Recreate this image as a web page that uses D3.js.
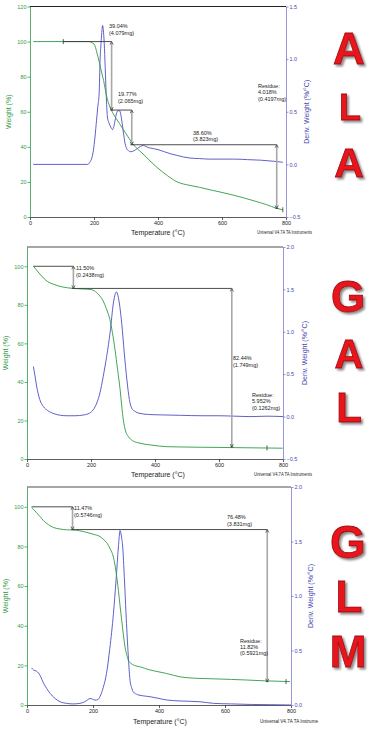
<!DOCTYPE html>
<html><head><meta charset="utf-8">
<script src="https://cdn.jsdelivr.net/npm/d3@7"></script>
<style>
html,body{margin:0;padding:0;background:#fff;}
svg{display:block;font-family:"Liberation Sans Narrow","Arial Narrow","Liberation Sans",Arial,sans-serif;}
</style></head><body>
<svg id="c" width="370" height="730"></svg>
<script>
// ---------------- DATA ----------------
const xTickValues = [0, 200, 400, 600, 800];

// ALA
const alaWeightT = [10,50,100,150,185,195,200,205,210,215,220,225,230,235,240,250,260,270,280,290,300,310,320,335,350,375,400,430,460,500,530,570,600,635,670,700,740,770,790];
const alaWeight  = [100,100,100,100,100,99.3,98.6,96.5,93,89.5,85.4,81.5,77.8,73,68.4,62.7,58.9,56,53.2,50.3,47.5,44.7,42,39,36.5,32,27.8,23.5,20,18,16.9,15.2,14,12.5,10.8,9.2,7,5,4.1];
const alaDerivT  = [10,50,100,150,180,187,193,198,203,208,212,216,219,222,224,227,229,232,235,238,242,246,250,255,258,262,266,270,275,280,284,288,292,297,302,308,315,325,335,345,355,362,370,385,400,420,440,460,480,500,530,560,600,640,680,720,760,790];
const alaDeriv   = [0,0,0,0,0,0.02,0.06,0.13,0.26,0.42,0.55,0.67,0.99,1.15,1.24,1.32,1.28,1.15,0.92,0.67,0.45,0.4,0.37,0.34,0.33,0.36,0.42,0.48,0.51,0.51,0.47,0.39,0.3,0.2,0.15,0.13,0.12,0.13,0.15,0.17,0.18,0.17,0.16,0.15,0.14,0.12,0.1,0.085,0.07,0.06,0.055,0.05,0.05,0.05,0.045,0.04,0.03,0.02];
const alaStepStart = [104, 255, 318];
const alaStepT     = [255, 318, 771];
const alaStepTop   = [100, 60.96, 41.19];
const alaStepBot   = [60.96, 41.19, 4.9];
const alaStepPct   = ["39.04%", "19.77%", "38.60%"];
const alaStepMg    = ["(4.079mg)", "(2.065mg)", "(3.823mg)"];
const alaResidue   = ["Residue:", "4.018%", "(0.4197mg)"];

// GAL
const galWeightT = [20,30,40,51,65,84,110,145,175,197,210,218,228,238,248,259,267,275,283,291,296,301,308,317,330,353,390,437,500,541,600,650,700,750,799];
const galWeight  = [100,98,96,94,92,90.6,89.3,88.5,88.2,88,87.3,86.3,84.5,82,78,72.4,65.5,56.8,46.5,36,27.5,20.3,14.5,11.6,9.5,8.2,7.2,6.4,6.2,6.1,6.0,5.9,5.8,5.7,5.6];
const galDerivT  = [20,25,30,40,51,65,84,105,125,150,178,195,207,218,228,238,249,260,270,276,280,284,290,296,304,312,320,327,338,350,380,420,480,550,600,650,700,750,800];
const galDeriv   = [0.59,0.48,0.36,0.2,0.12,0.07,0.035,0.015,0.01,0.01,0.02,0.04,0.08,0.16,0.28,0.47,0.71,1.0,1.34,1.45,1.47,1.43,1.3,1.1,0.75,0.44,0.2,0.1,0.06,0.04,0.025,0.02,0.015,0.01,0.01,0.005,0.0,0.005,0.0];
const galStepStart = [20, 145];
const galStepT     = [145, 640];
const galStepTop   = [100, 88.5];
const galStepBot   = [88.5, 6.2];
const galStepPct   = ["11.50%", "82.44%"];
const galStepMg    = ["(0.2438mg)", "(1.749mg)"];
const galResidue   = ["Residue:", "5.952%", "(0.1262mg)"];

// GLM
const glmWeightT = [14,20,29,40,50,65,80,100,120,140,160,181,200,221,231,241,252,262,270,277,282,287,292,297,302,307,315,325,342,370,400,423,464,524,565,620,666,720,760,797];
const glmWeight  = [99.6,98.7,97,95,93,91,89.6,88.8,88.4,88.3,87.9,87.1,86.2,85,83.7,82,78.8,74.5,67,57.8,50,42.7,35.5,29.3,25.5,22.6,21,20,19.3,17.8,16.7,15.9,14.2,13.4,13.2,12.9,12.6,12.2,12.0,11.8];
const glmDerivT  = [14,20,29,40,50,60,70,85,100,120,140,160,175,185,191,198,206,215,221,231,241,251,262,270,277,282,286,290,295,300,306,312,317,322,335,350,373,400,423,464,524,565,620,680,740,800];
const glmDeriv   = [0.34,0.32,0.31,0.27,0.2,0.15,0.107,0.06,0.03,0.015,0.01,0.015,0.03,0.05,0.06,0.055,0.045,0.05,0.076,0.16,0.29,0.52,0.84,1.15,1.45,1.6,1.55,1.45,1.17,0.84,0.5,0.23,0.16,0.12,0.095,0.085,0.076,0.06,0.046,0.037,0.03,0.015,0.01,0.005,0.003,0.0];
const glmStepStart = [14, 138];
const glmStepT     = [138, 728];
const glmStepTop   = [100, 88.53];
const glmStepBot   = [88.53, 11.8];
const glmStepPct   = ["11.47%", "76.48%"];
const glmStepMg    = ["(0.5746mg)", "(3.831mg)"];
const glmResidue   = ["Residue:", "11.82%", "(0.5921mg)"];

// ---------------- DRAW ----------------
const svg = d3.select('#c');
const GREEN = '#2f9b45', BLUE = '#4e4ec4', AX_BLUE = '#7c7cd0', TXT_BLUE = '#4747b0';
const FS = 5.5;

const defs = svg.append('defs');
const flt = defs.append('filter').attr('id', 'shadow').attr('x', '-20%').attr('y', '-20%').attr('width', '150%').attr('height', '150%');
flt.append('feDropShadow').attr('dx', 2).attr('dy', 2).attr('stdDeviation', 0.8).attr('flood-color', '#666').attr('flood-opacity', 0.75);

function zipSteps(start, t, top, bot, pct, mg) {
  return start.map((s, i) => ({start: s, t: t[i], top: top[i], bot: bot[i], pct: pct[i], mg: mg[i]}));
}

function drawPanel(p) {
  const g = svg.append('g');
  const x = d3.scaleLinear().domain([0, 800]).range(p.xr);
  const yL = d3.scaleLinear().domain(p.wDom).range(p.yr);
  const yR = d3.scaleLinear().domain(p.dDom).range(p.yr);

  // top border
  g.append('line').attr('x1', p.xr[0]).attr('x2', p.xr[1]).attr('y1', p.yr[1]).attr('y2', p.yr[1])
    .attr('stroke', p.topColor).attr('stroke-width', p.topW);

  // bottom axis
  const bx = g.append('g').attr('transform', `translate(0,${p.yr[0]})`);
  bx.call(d3.axisBottom(x).tickValues(d3.range(0, 801, 50)).tickSize(2).tickSizeOuter(0).tickFormat(''));
  bx.call(d3.axisBottom(x).tickValues(xTickValues).tickSize(3).tickSizeOuter(0).tickPadding(1).tickFormat(d3.format('d')));
  bx.selectAll('path,line').attr('stroke', '#333').attr('stroke-width', 0.8);
  bx.selectAll('text').attr('font-size', FS).attr('fill', '#222').attr('font-family', null);

  // left axis
  const lx = g.append('g').attr('transform', `translate(${p.xr[0]},0)`);
  lx.call(d3.axisLeft(yL).tickValues(d3.range(p.wDom[0], p.wDom[1] + 0.01, 5)).tickSize(1.5).tickSizeOuter(0).tickFormat(''));
  lx.call(d3.axisLeft(yL).tickValues(p.wTicks).tickSize(2.5).tickSizeOuter(0).tickPadding(1).tickFormat(d3.format('d')));
  lx.selectAll('path,line').attr('stroke', GREEN).attr('stroke-width', 0.8);
  lx.selectAll('text').attr('font-size', FS).attr('fill', GREEN).attr('font-family', null);

  // right axis
  const rx = g.append('g').attr('transform', `translate(${p.xr[1]},0)`);
  rx.call(d3.axisRight(yR).tickValues(d3.range(p.dDom[0], p.dDom[1] + 0.001, p.dMinor)).tickSize(1.5).tickSizeOuter(0).tickFormat(''));
  rx.call(d3.axisRight(yR).tickValues(p.dTicks).tickSize(2.5).tickSizeOuter(0).tickPadding(1).tickFormat(d3.format('.1f')));
  rx.selectAll('path,line').attr('stroke', AX_BLUE).attr('stroke-width', 0.8);
  rx.selectAll('text').attr('font-size', FS).attr('fill', TXT_BLUE).attr('font-family', null);

  // curves
  const lineD = d3.line().x(d => x(d[0])).y(d => yR(d[1])).curve(d3.curveMonotoneX);
  const lineW = d3.line().x(d => x(d[0])).y(d => yL(d[1])).curve(d3.curveMonotoneX);
  g.append('path').datum(d3.zip(p.dT, p.d)).attr('d', lineD).attr('fill', 'none').attr('stroke', BLUE).attr('stroke-width', 0.9);
  g.append('path').datum(d3.zip(p.wT, p.w)).attr('d', lineW).attr('fill', 'none').attr('stroke', GREEN).attr('stroke-width', 0.9);

  // annotation steps
  p.steps.forEach((s, i) => {
    const xs = x(s.start), xt = x(s.t), yt = yL(s.top), yb = yL(s.bot);
    g.append('line').attr('x1', xs).attr('x2', xt).attr('y1', yt).attr('y2', yt).attr('stroke', '#3a3a3a').attr('stroke-width', 0.9);
    g.append('line').attr('x1', xt).attr('x2', xt).attr('y1', yt).attr('y2', yb).attr('stroke', '#a8a8a8').attr('stroke-width', 1.6);
    g.append('path').attr('d', `M${xt-1.6},${yt+3}L${xt},${yt}L${xt+1.6},${yt+3}M${xt-1.6},${yb-3}L${xt},${yb}L${xt+1.6},${yb-3}M${xt-1.6},${yb}L${xt+1.6},${yb}`)
      .attr('fill', 'none').attr('stroke', '#333').attr('stroke-width', 0.7);
    const lp = p.labelPos[i];
    const t = g.append('text').attr('font-size', FS).attr('fill', '#222');
    t.append('tspan').attr('x', lp[0]).attr('y', lp[1]).text(s.pct);
    t.append('tspan').attr('x', lp[0]).attr('y', lp[1] + 6.5).text(s.mg);
  });
  // residue label
  const rt = g.append('text').attr('font-size', FS).attr('fill', '#222');
  p.residue.forEach((r, i) => rt.append('tspan').attr('x', p.resPos[0]).attr('y', p.resPos[1] + i * 6.3).text(r));

  // small markers
  p.marks.forEach(m => {
    const mx = x(m[0]), my = yL(m[1]);
    g.append('line').attr('x1', mx).attr('x2', mx).attr('y1', my - 2.5).attr('y2', my + 2.5).attr('stroke', '#333').attr('stroke-width', 0.8);
  });

  // titles
  g.append('text').attr('x', p.tempPos[0]).attr('y', p.tempPos[1]).attr('text-anchor', 'middle').attr('font-size', 7).attr('fill', '#222').text('Temperature (°C)');
  g.append('text').attr('x', p.uniPos[0]).attr('y', p.uniPos[1]).attr('font-size', 5).attr('fill', '#222')
    .attr('textLength', p.uniLen).attr('lengthAdjust', 'spacingAndGlyphs').text(p.uniText);
  const ymid = (p.yr[0] + p.yr[1]) / 2;
  g.append('text').attr('transform', `translate(${p.wTitleX},${ymid}) rotate(-90)`).attr('text-anchor', 'middle')
    .attr('font-size', 7).attr('fill', GREEN).text('Weight (%)');
  g.append('text').attr('transform', `translate(${p.dTitleX},${ymid}) rotate(-90)`).attr('text-anchor', 'middle')
    .attr('font-size', 7).attr('fill', TXT_BLUE).text('Deriv. Weight (%/°C)');

  // big letters
  p.letters.forEach(L => {
    svg.append('text').attr('x', L[1]).attr('y', L[2])
      .attr('font-family', '"Liberation Sans",Arial,sans-serif').attr('font-weight', 'bold').attr('text-anchor', 'middle').attr('font-size', L[3])
      .attr('fill', '#e8151d').attr('stroke', '#a30a10').attr('stroke-width', 0.8).attr('filter', 'url(#shadow)').text(L[0]);
  });
}

drawPanel({
  xr: [30, 286], yr: [217, 6.5], wDom: [0, 120], dDom: [-0.5, 1.5],
  wTicks: [0, 20, 40, 60, 80, 100, 120], dTicks: [-0.5, 0, 0.5, 1.0, 1.5], dMinor: 0.125,
  topColor: '#222', topW: 1,
  wT: alaWeightT, w: alaWeight, dT: alaDerivT, d: alaDeriv,
  steps: zipSteps(alaStepStart, alaStepT, alaStepTop, alaStepBot, alaStepPct, alaStepMg),
  labelPos: [[109, 28], [118, 96], [193, 134.5]],
  residue: alaResidue, resPos: [258, 88],
  marks: [[104, 100], [790, 4.1]],
  tempPos: [158, 235], uniPos: [257, 234], uniLen: 55, uniText: 'Universal V4.7A TA Instruments',
  wTitleX: 10.5, dTitleX: 309,
  letters: [['A', 349, 64, 44], ['L', 350, 120, 36], ['A', 349, 177, 41]]
});

drawPanel({
  xr: [27, 283], yr: [459, 247], wDom: [0, 110], dDom: [-0.5, 2.0],
  wTicks: [0, 20, 40, 60, 80, 100], dTicks: [-0.5, 0, 0.5, 1.0, 1.5, 2.0], dMinor: 0.1,
  topColor: '#888', topW: 1.5,
  wT: galWeightT, w: galWeight, dT: galDerivT, d: galDeriv,
  steps: zipSteps(galStepStart, galStepT, galStepTop, galStepBot, galStepPct, galStepMg),
  labelPos: [[76, 270], [233, 360]],
  residue: galResidue, resPos: [252, 397],
  marks: [[750, 5.75]],
  tempPos: [158, 477], uniPos: [254, 476], uniLen: 58, uniText: 'Universal V4.7A TA Instruments',
  wTitleX: 8, dTitleX: 306.5,
  letters: [['G', 348, 312, 44], ['A', 349, 368, 40], ['L', 349, 422, 42]]
});

drawPanel({
  xr: [27, 291], yr: [705, 487], wDom: [0, 110], dDom: [0, 2.0],
  wTicks: [0, 20, 40, 60, 80, 100], dTicks: [0, 0.5, 1.0, 1.5, 2.0], dMinor: 0.125,
  topColor: '#888', topW: 1.5,
  wT: glmWeightT, w: glmWeight, dT: glmDerivT, d: glmDeriv,
  steps: zipSteps(glmStepStart, glmStepT, glmStepTop, glmStepBot, glmStepPct, glmStepMg),
  labelPos: [[74, 510], [227, 519]],
  residue: glmResidue, resPos: [240, 642.5],
  marks: [[785, 11.8]],
  tempPos: [160, 724], uniPos: [260, 723], uniLen: 58, uniText: 'Universal V4.7A TA Instrume',
  wTitleX: 7.5, dTitleX: 312.5,
  letters: [['G', 348, 558, 46], ['L', 349, 612, 44], ['M', 348, 667, 44]]
});
</script>
</body></html>
